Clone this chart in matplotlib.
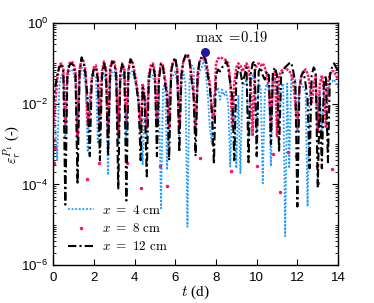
import numpy as np
import matplotlib
matplotlib.use("Agg")
import matplotlib.pyplot as plt
from matplotlib.ticker import LogLocator, NullFormatter, FixedLocator
from matplotlib.lines import Line2D

plt.rcParams['font.family'] = ['Liberation Sans', 'DejaVu Sans']
plt.rcParams['mathtext.fontset'] = 'cm'

# sampling step of the series (days); values as log10
dt = 0.1

# x = 4 cm (blue, dotted)
blue_log = [
    -2.2, -2.5, -3.4, -1.6, -1.3, -1.25, -2.8, -1.4, -1.2, -1.15,
    -1.2, -1.5, -3.0, -1.4, -1.1, -1.2, -1.6, -3.2, -1.8, -1.4,
    -1.3, -1.3, -3.0, -1.6, -1.4, -1.25, -1.5, -3.77, -1.5, -1.2,
    -1.2, -1.5, -3.0, -1.5, -1.25, -1.3, -3.0, -1.4, -1.2, -1.2,
    -1.4, -1.6, -2.0, -2.4, -3.52, -1.9, -2.9, -1.5, -1.3, -1.3,
    -1.5, -2.6, -1.7, -4.59, -1.6, -1.5, -3.64, -1.8, -1.4, -1.3,
    -1.2, -1.5, -2.8, -1.6, -1.2, -1.5, -5.05, -1.4, -1.05, -1.1,
    -2.8, -1.5, -1.2, -1.1, -0.9, -1.2, -1.8, -2.6, -3.0, -1.8,
    -1.7, -1.6, -1.9, -1.65, -1.8, -1.7, -2.0, -3.56, -1.8, -2.0,
    -3.6, -1.8, -3.72, -1.6, -1.5, -1.4, -2.8, -1.5, -1.3, -1.35,
    -2.7, -1.5, -1.6, -3.97, -1.7, -1.5, -1.6, -3.55, -1.5, -1.4,
    -1.5, -2.5, -1.6, -1.5, -5.28, -1.5, -3.6, -1.3, -1.35, -1.4,
    -2.7, -1.6, -1.5, -1.6, -1.7, -4.55, -1.8, -1.5, -1.45, -1.5,
    -2.6, -1.7, -2.8, -1.7, -1.6, -1.8, -1.5, -1.45, -1.4, -1.5,
    -1.6]

# x = 8 cm (red dots)
red_log = [
    -2.6, -2.0, -1.4, -1.05, -1.0, -1.1, -2.6, -1.25, -1.0, -0.95,
    -1.0, -1.2, -2.8, -1.15, -0.9, -0.95, -1.2, -2.5, -2.2, -1.35,
    -1.1, -1.05, -1.3, -2.6, -1.2, -0.95, -1.15, -2.8, -1.1, -0.95,
    -0.95, -1.2, -2.8, -1.25, -1.0, -1.15, -2.5, -1.15, -0.9, -0.95,
    -1.2, -1.5, -1.9, -2.7, -1.5, -1.8, -2.6, -1.3, -1.05, -1.0,
    -1.2, -2.5, -1.3, -1.0, -1.05, -1.4, -1.7, -2.6, -1.15, -0.95,
    -0.9, -1.15, -2.6, -1.25, -0.95, -0.85, -0.8, -0.95, -1.3, -1.7,
    -2.6, -1.25, -0.95, -0.9, -0.8, -0.9, -1.2, -1.5, -2.2, -2.4,
    -1.0, -0.88, -0.85, -0.87, -0.9, -0.92, -1.0, -1.4, -2.6, -1.5,
    -1.1, -1.0, -1.05, -1.2, -1.1, -1.0, -1.1, -1.5, -2.8, -1.2,
    -1.05, -1.0, -1.05, -1.0, -1.1, -1.3, -1.6, -2.5, -1.3, -1.2,
    -2.8, -1.3, -1.2, -1.15, -1.1, -1.15, -1.2, -1.25, -1.5, -2.0,
    -2.6, -1.6, -1.3, -1.2, -1.15, -1.25, -1.5, -2.0, -1.6, -1.3,
    -2.7, -1.5, -1.3, -1.6, -2.6, -1.5, -1.25, -1.2, -1.2, -1.3,
    -1.4]

# isolated low red points
red_low_t = [0.02, 0.05, 0.1, 1.65, 2.26, 3.64, 4.31, 5.26, 5.58, 7.22,
             8.73, 10.0, 10.8, 11.15, 11.54, 11.93, 12.95, 13.0, 13.69]
red_low_log = [-3.47, -2.9, -3.1, -3.87, -3.46, -3.46, -4.08, -3.54, -4.04, -3.35,
               -3.67, -3.54, -3.25, -4.18, -3.2, -3.3, -3.54, -3.97, -3.62]

# x = 12 cm (black, dash-dot)
black_log = [
    -2.0, -1.6, -1.3, -1.1, -1.05, -1.15, -4.5, -1.3, -1.05, -1.0,
    -1.05, -1.3, -4.0, -1.2, -0.85, -1.0, -1.3, -1.9, -3.3, -1.4,
    -1.15, -1.1, -1.4, -3.4, -1.3, -1.0, -1.2, -3.3, -1.2, -0.95,
    -1.0, -1.3, -4.1, -1.3, -1.0, -1.2, -4.4, -1.2, -0.9, -1.0,
    -1.3, -1.6, -2.0, -3.4, -1.6, -1.9, -3.8, -1.4, -1.1, -1.05,
    -1.3, -3.3, -1.4, -1.0, -1.1, -1.5, -1.8, -3.4, -1.2, -0.95,
    -0.85, -1.2, -3.2, -1.3, -0.95, -0.8, -0.75, -0.9, -1.4, -1.8,
    -3.3, -1.3, -0.9, -0.85, -0.8, -0.95, -1.3, -1.6, -2.2, -3.5,
    -1.3, -1.15, -1.2, -1.1, -1.05, -0.95, -1.1, -1.5, -1.8, -3.4,
    -1.4, -1.1, -1.2, -1.5, -1.3, -1.1, -3.45, -1.3, -1.0, -0.95,
    -3.3, -1.2, -1.1, -1.3, -1.4, -1.2, -1.3, -3.0, -1.2, -1.1,
    -1.3, -3.2, -1.3, -1.2, -1.1, -1.05, -1.0, -0.98, -1.2, -1.5,
    -4.55, -1.6, -1.3, -1.2, -1.5, -1.9, -3.6, -1.3, -1.1, -1.2,
    -4.05, -1.8, -3.6, -1.5, -1.3, -3.45, -1.3, -1.1, -1.0, -1.1,
    -1.2]

max_t = 7.47
max_val = 0.19

y_ticks = [1e-6, 1e-4, 1e-2, 1e0]
x_ticks = [0, 2, 4, 6, 8, 10, 12, 14]

blue = 10.0 ** np.array(blue_log)
red = 10.0 ** np.array(red_log)
black = 10.0 ** np.array(black_log)
red_low = 10.0 ** np.array(red_low_log)
t = np.arange(len(black)) * dt

c_blue = '#1e9bff'
c_red = '#ff1464'
dashdot = (0, (4, 1.5, 1, 1.5))

fig = plt.figure(figsize=(3.74, 3.03), dpi=100)
ax = fig.add_axes([0.142, 0.125, 0.762, 0.799])

ax.plot(t, blue, ls=(0, (1, 1)), color=c_blue, lw=1.3)
ax.plot(t, red, ls=(0, (1, 0.5)), color=c_red, lw=1.8)
ax.plot(red_low_t, red_low, '.', color=c_red, ms=3, ls='none')
ax.plot(t, black, ls=dashdot, color='black', lw=1.5)
ax.plot([max_t], [max_val], 'o', color='#1a1a9e', ms=5.5)
ax.text(6.95, 0.33, r'$\max\ =\!0.19$', fontsize=10.5)

ax.set_yscale('log')
ax.set_xlim(0, 14)
ax.set_ylim(1e-6, 1)
ax.set_xticks(x_ticks)
ax.yaxis.set_major_locator(FixedLocator(y_ticks))
ax.yaxis.set_minor_locator(LogLocator(base=10, subs=np.arange(1, 10), numticks=20))
ax.yaxis.set_minor_formatter(NullFormatter())
ax.tick_params(which='both', direction='in', top=True, right=True, labelsize=9.5)
ax.tick_params(axis='x', pad=5)
ax.tick_params(which='major', length=4, width=0.8)
ax.tick_params(which='minor', length=2, width=0.6)
for s in ax.spines.values():
    s.set_linewidth(1.0)

ax.set_xlabel(r'$t$ (d)', fontsize=11, family='Liberation Serif')
ax.set_ylabel(r'$\varepsilon_r^{P_1}$ (-)', fontsize=10.5, family='Liberation Serif')
ax.xaxis.set_label_coords(0.5, -0.075)
ax.yaxis.set_label_coords(-0.105, 0.5)

handles = [
    Line2D([], [], ls=(0, (1, 1)), color=c_blue, lw=1.3),
    Line2D([], [], marker='.', ls='none', color=c_red, ms=3),
    Line2D([], [], ls=dashdot, color='black', lw=1.5),
]
labels = [r'$x\ =\ 4\ \mathrm{cm}$', r'$x\ =\ 8\ \mathrm{cm}$', r'$x\ =\ 12\ \mathrm{cm}$']
ax.legend(handles, labels, loc='lower left', bbox_to_anchor=(0.02, 0.01),
          frameon=False, fontsize=9.5, handlelength=2.0, handletextpad=0.6,
          labelspacing=0.4, borderaxespad=0.3)

fig.savefig('out.png', dpi=100)
